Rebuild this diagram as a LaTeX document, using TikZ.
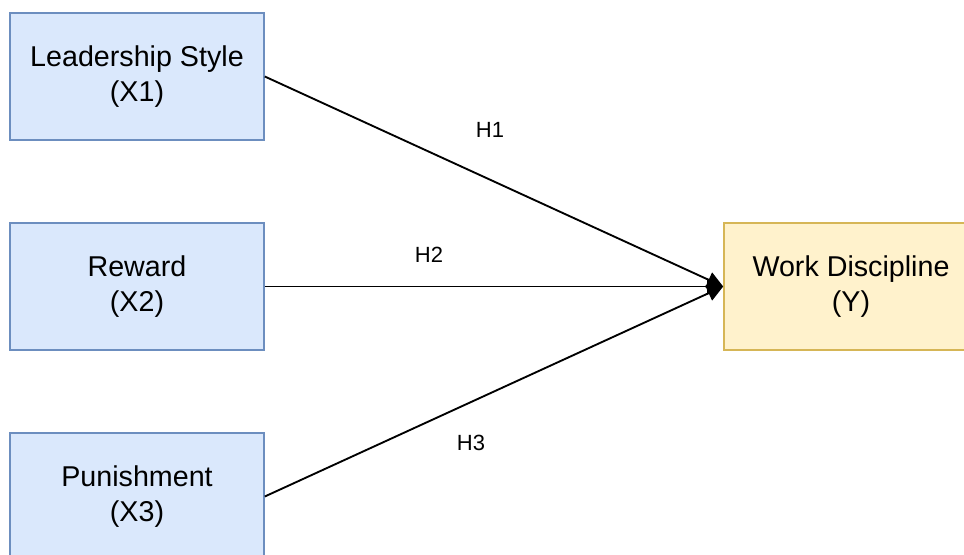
\documentclass[tikz,border=0pt]{standalone}
\usepackage{fontspec}
\setmainfont{Liberation Sans}
\usetikzlibrary{arrows.meta}

\definecolor{varfill}{HTML}{DAE8FC}
\definecolor{vardraw}{HTML}{6C8EBF}
\definecolor{depfill}{HTML}{FFF2CC}
\definecolor{depdraw}{HTML}{D6B656}

\tikzset{
  varbox/.style={draw=vardraw, fill=varfill, line width=1.2pt, minimum width=190.5pt,
    minimum height=95pt, align=center, inner sep=0pt, font=\fontsize{21.5}{26.5}\selectfont},
  depbox/.style={varbox, draw=depdraw, fill=depfill},
  hyp/.style={font=\fontsize{16.5}{20}\selectfont},
  link/.style={line width=1.4pt, -{Triangle[length=12pt, width=12pt]}}
}

\begin{document}
\begin{tikzpicture}[x=0.75pt, y=-0.75pt]
  \useasboundingbox (0,0) rectangle (964,554);
  \clip (0,0) rectangle (964,554);
  % Independent variables
  \node[varbox] (x1) at (137, 76.5)  {Leadership Style\\(X1)};
  \node[varbox] (x2) at (137, 286.5) {Reward\\(X2)};
  \node[varbox] (x3) at (137, 496.5) {Punishment\\(X3)};

  % Dependent variable
  \node[depbox] (y) at (851, 286.5) {Work Discipline\\(Y)};

  % Hypotheses
  \draw[link] (x1.east) -- (y.west);
  \draw[link] (x2.east) -- (y.west);
  \draw[link] (x3.east) -- (y.west);
  \node[hyp] (h1) at (490, 130) {H1};
  \node[hyp] (h2) at (429, 255) {H2};
  \node[hyp] (h3) at (471, 443) {H3};
\end{tikzpicture}
\end{document}
